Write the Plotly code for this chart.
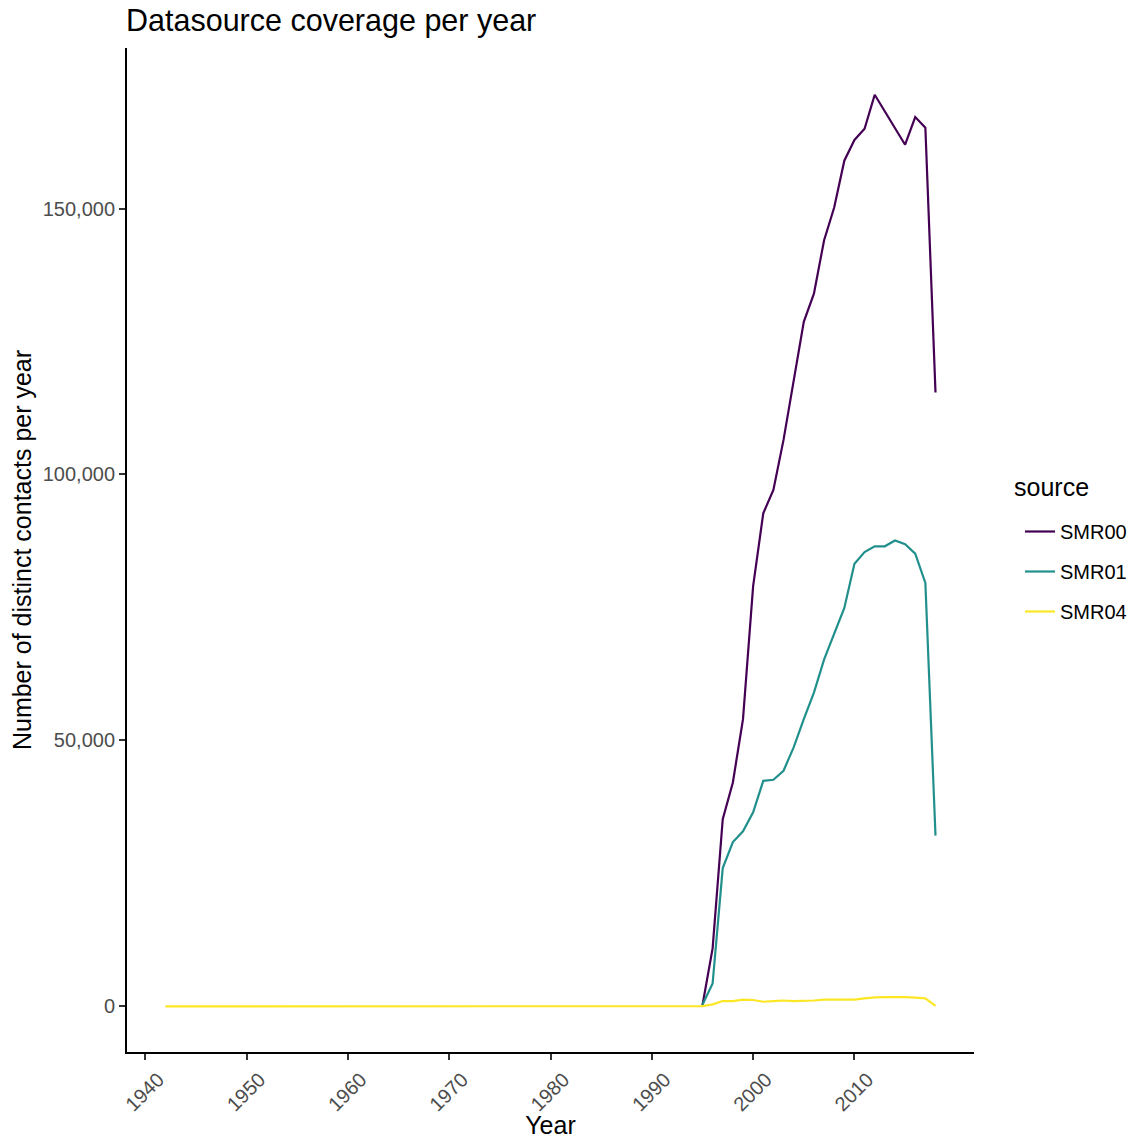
import plotly.graph_objects as go

years_main = list(range(1995, 2019))
smr00 = [200, 10900, 35200, 42100, 54000, 79000, 92700, 97100, 106500, 117800,
         128700, 134000, 144000, 150200, 159000, 162900, 165000, 171400, 168300,
         165100, 162000, 167200, 165200, 115400]
smr01 = [300, 4300, 26000, 30900, 32900, 36500, 42400, 42600, 44300, 48700,
         54000, 59000, 65200, 70200, 74900, 83200, 85400, 86500, 86500, 87600,
         86900, 85100, 79600, 32100]

years_smr04 = list(range(1942, 2019))
smr04 = [10, 12, 12, 15, 15, 18, 20, 20, 22, 25,
         25, 28, 30, 30, 32, 35, 35, 38, 40, 40,
         42, 45, 45, 48, 50, 60, 70, 55, 50, 48,
         45, 45, 42, 40, 40, 42, 45, 48, 50, 60,
         70, 65, 60, 55, 50, 45, 40, 40, 38, 35,
         30, 30, 30, 30, 375, 1000, 1000, 1250, 1200,
         870, 1000, 1100, 1000, 1000, 1100, 1250, 1250, 1250, 1250,
         1500, 1700, 1750, 1800, 1750, 1650, 1500, 100]

series = [
    ("SMR00", years_main, smr00, "#440154"),
    ("SMR01", years_main, smr01, "#21908C"),
    ("SMR04", years_smr04, smr04, "#FDE725"),
]
legend_title = "source"

font_family = "Liberation Sans, Arial, sans-serif"

fig = go.Figure()
for name, xs, ys, col in series:
    fig.add_trace(go.Scatter(x=xs, y=ys, mode="lines", name=name, legendgroup=name,
                             line=dict(color=col, width=2.2)))

W, H = 1142, 1139
L, R, T, B = 127, 168, 48, 87
pw, ph = W - L - R, H - T - B

fig.update_layout(
    width=W, height=H,
    margin=dict(l=L, r=R, t=T, b=B, autoexpand=False),
    paper_bgcolor="white", plot_bgcolor="white",
    font=dict(family=font_family, color="black"),
    title=dict(text="Datasource coverage per year", x=126/W, xanchor="left",
               y=1 - 20/H, yanchor="middle", font=dict(size=30.5, color="black")),
    legend=dict(font=dict(size=20), x=(1020 - L)/pw, xanchor="left",
                y=(H - B - 512)/ph, yanchor="top", tracegroupgap=11,
                bgcolor="rgba(0,0,0,0)"),
    showlegend=True,
    annotations=[dict(text=legend_title, xref="paper", yref="paper",
                      x=(1012 - L)/pw, xanchor="left", y=(H - B - 487)/ph, yanchor="middle",
                      showarrow=False, font=dict(size=25, color="black"))],
)
fig.update_xaxes(
    range=[1938.2, 2021.8], tickvals=[1940, 1950, 1960, 1970, 1980, 1990, 2000, 2010],
    ticktext=["1940", "1950", "1960", "1970", "1980", "1990", "2000", "2010"],
    tickangle=-45, ticks="outside", ticklen=6, tickwidth=2, tickcolor="#333333",
    ticklabelshift=13,
    showline=True, linecolor="black", linewidth=2, showgrid=False, zeroline=False,
    tickfont=dict(size=20, color="#4D4D4D"),
    title=dict(text="Year", font=dict(size=25, color="black"), standoff=5),
    automargin=False,
)
fig.update_yaxes(
    range=[-8580, 180180], tickvals=[0, 50000, 100000, 150000],
    ticktext=["0", "50,000", "100,000", "150,000"],
    ticks="outside", ticklen=6, tickwidth=2, tickcolor="#333333",
    showline=True, linecolor="black", linewidth=2, showgrid=False, zeroline=False,
    tickfont=dict(size=20, color="#4D4D4D"),
    title=dict(text="Number of distinct contacts per year", font=dict(size=25, color="black"), standoff=4),
    automargin=False,
)

fig.write_html("out.html")
